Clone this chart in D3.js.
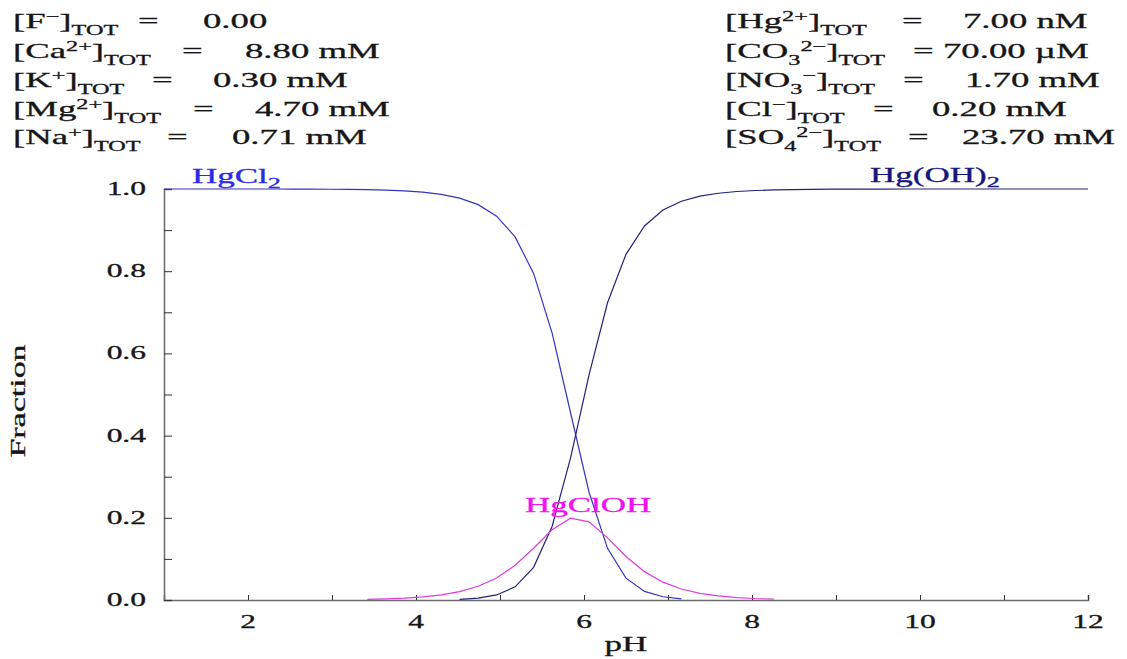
<!DOCTYPE html>
<html>
<head>
<meta charset="utf-8">
<script src="https://cdn.jsdelivr.net/npm/d3@7.9.0/dist/d3.min.js"></script>
<style>
  body { margin: 0; background: #fff; }
  svg { display: block; font-family: "Liberation Serif", "Times New Roman", serif; }
</style>
</head>
<body>
<svg id="chart" width="1127" height="659"></svg>
<script>
// pH grid used by the speciation run
const pH = [1.00, 1.22, 1.44, 1.66, 1.88, 2.10, 2.32, 2.54, 2.76, 2.98, 3.20, 3.42, 3.64, 3.86, 4.08, 4.30,
  4.52, 4.74, 4.96, 5.18, 5.40, 5.62, 5.84, 6.06, 6.28, 6.50, 6.72, 6.94, 7.16, 7.38, 7.60, 7.82, 8.04,
  8.26, 8.48, 8.70, 8.92, 9.14, 9.36, 9.58, 9.80, 10.02, 10.24, 10.46, 10.68, 10.90, 11.12, 11.34, 11.56,
  11.78, 12.00];

// fractions, null = below plotting threshold
const hgcl2 = [1.000, 1.000, 1.000, 1.000, 1.000, 1.000, 1.000, 0.9998, 0.9996, 0.9994, 0.9990, 0.9983,
  0.9972, 0.9954, 0.9922, 0.9870, 0.9779, 0.9620, 0.9340, 0.8835, 0.7946, 0.6500, 0.4556, 0.2622, 0.1257,
  0.0531, 0.0209, 0.0079, 0.0029, null, null, null, null, null, null, null, null, null, null, null, null,
  null, null, null, null, null, null, null, null, null, null];

const hgcloh = [null, null, null, null, null, null, null, null, null, null, null, 0.0017, 0.0027, 0.0045,
  0.0075, 0.0124, 0.0204, 0.0334, 0.0537, 0.0844, 0.1259, 0.1710, 0.1989, 0.1900, 0.1511, 0.1059, 0.0690,
  0.0434, 0.0267, 0.0163, 0.0099, 0.0060, 0.0036, 0.0022, null, null, null, null, null, null, null, null,
  null, null, null, null, null, null, null, null, null];

const hgoh2 = [null, null, null, null, null, null, null, null, null, null, null, null, null, null, null,
  null, 0.0017, 0.0046, 0.0123, 0.0321, 0.0795, 0.1790, 0.3456, 0.5478, 0.7232, 0.8411, 0.9101, 0.9488,
  0.9703, 0.9826, 0.9897, 0.9939, 0.9963, 0.9978, 0.9987, 0.9992, 0.9995, 0.9997, 0.9998, 0.9999, 1.000,
  1.000, 1.000, 1.000, 1.000, 1.000, 1.000, 1.000, 1.000, 1.000, 1.000];

const xTicks = [1, 2, 3, 4, 5, 6, 7, 8, 9, 10, 11, 12];
const xTickLabels = [2, 4, 6, 8, 10, 12];
const yTicks = [0, 0.1, 0.2, 0.3, 0.4, 0.5, 0.6, 0.7, 0.8, 0.9, 1.0];
const yTickLabels = [0, 0.2, 0.4, 0.6, 0.8, 1.0];

// totals shown above the plot: [text, 'n' | 'sup' | 'sub']
const leftIons = [
  [['[F', 'n'], ['−', 'sup'], [']', 'n'], ['TOT', 'sub']],
  [['[Ca', 'n'], ['2+', 'sup'], [']', 'n'], ['TOT', 'sub']],
  [['[K', 'n'], ['+', 'sup'], [']', 'n'], ['TOT', 'sub']],
  [['[Mg', 'n'], ['2+', 'sup'], [']', 'n'], ['TOT', 'sub']],
  [['[Na', 'n'], ['+', 'sup'], [']', 'n'], ['TOT', 'sub']]
];
const leftValues = ['0.00', '8.80 mM', '0.30 mM', '4.70 mM', '0.71 mM'];
const rightIons = [
  [['[Hg', 'n'], ['2+', 'sup'], [']', 'n'], ['TOT', 'sub']],
  [['[CO', 'n'], ['3', 'sub'], ['2−', 'sup'], [']', 'n'], ['TOT', 'sub']],
  [['[NO', 'n'], ['3', 'sub'], ['−', 'sup'], [']', 'n'], ['TOT', 'sub']],
  [['[Cl', 'n'], ['−', 'sup'], [']', 'n'], ['TOT', 'sub']],
  [['[SO', 'n'], ['4', 'sub'], ['2−', 'sup'], [']', 'n'], ['TOT', 'sub']]
];
const rightValues = ['7.00 nM', '70.00 µM', '1.70 mM', '0.20 mM', '23.70 mM'];

const svg = d3.select('#chart');
const SX = 1.75; // the original text is drawn horizontally stretched

const x = d3.scaleLinear().domain([1, 12]).range([164, 1088]);
const y = d3.scaleLinear().domain([0, 1]).range([600, 189]);

function richText(parent, px, py, parts, opt = {}) {
  const size = opt.size || 21;
  const color = opt.color || '#161616';
  const t = parent.append('text')
    .attr('transform', `translate(${px},${py}) scale(${SX},1)`)
    .attr('font-size', size)
    .attr('fill', color)
    .attr('stroke', color)
    .attr('stroke-width', 0.3)
    .attr('text-anchor', opt.anchor || 'start');
  let shift = 0;
  parts.forEach(([s, k]) => {
    const target = k === 'sup' ? -(opt.up || 7) : k === 'sub' ? (opt.down || 7) : 0;
    t.append('tspan')
      .attr('dy', target - shift)
      .attr('font-size', k === 'n' ? size : size * (opt.small || 0.66))
      .text(s);
    shift = target;
  });
  return t;
}

// header block
const rowY = [28, 58, 87, 116, 144];
const leftEqX = [138, 182, 152, 193, 167];
const leftValX = [203, 245, 213, 255, 232];
const rightEqX = [902, 913, 903, 873, 908];
const rightValX = [963, 943, 965, 932, 962];

leftIons.forEach((parts, i) => {
  richText(svg, 13, rowY[i], parts);
  richText(svg, leftEqX[i], rowY[i], [['=', 'n']]);
  richText(svg, leftValX[i], rowY[i], [[leftValues[i], 'n']]);
});
rightIons.forEach((parts, i) => {
  richText(svg, 725, rowY[i], parts);
  richText(svg, rightEqX[i], rowY[i], [['=', 'n']]);
  richText(svg, rightValX[i], rowY[i], [[rightValues[i], 'n']]);
});

// axes
const axisColor = '#6e6e6e';
const xAxis = d3.axisTop(x).tickValues(xTicks).tickSize(5).tickFormat('');
svg.append('g').attr('transform', 'translate(0,600)').call(xAxis)
  .call(g => g.select('.domain').attr('stroke', axisColor).attr('stroke-width', 1.6))
  .call(g => g.selectAll('.tick line').attr('stroke', '#333'));

const yAxis = d3.axisRight(y).tickValues(yTicks).tickSize(8).tickFormat('');
svg.append('g').attr('transform', 'translate(164,0)').call(yAxis)
  .call(g => g.select('.domain').attr('stroke', axisColor).attr('stroke-width', 1.6))
  .call(g => g.selectAll('.tick line').attr('stroke', '#333'));

xTickLabels.forEach(v => richText(svg, x(v), 628, [[String(v), 'n']], { size: 18, anchor: 'middle' }));
yTickLabels.forEach(v => richText(svg, 146, y(v) + 6, [[v.toFixed(1), 'n']], { size: 18, anchor: 'end' }));

richText(svg, 626, 651, [['pH', 'n']], { size: 20, anchor: 'middle' });
svg.append('text')
  .attr('transform', 'translate(25,401) rotate(-90) scale(1.7,1)')
  .attr('text-anchor', 'middle')
  .attr('font-size', 20)
  .attr('fill', '#161616')
  .attr('stroke', '#161616')
  .attr('stroke-width', 0.3)
  .text('Fraction');

// curves
const line = d3.line()
  .defined(d => d[1] !== null)
  .x(d => x(d[0]))
  .y(d => y(d[1]));

const series = [
  { values: hgcl2, stroke: '#3434c4' },
  { values: hgoh2, stroke: '#222276' },
  { values: hgcloh, stroke: '#dc3cdc' }
];
series.forEach(s => {
  svg.append('path')
    .datum(pH.map((p, i) => [p, s.values[i]]))
    .attr('d', line)
    .attr('fill', 'none')
    .attr('stroke', s.stroke)
    .attr('stroke-width', 1.2);
});

// species labels
richText(svg, 192, 183, [['HgCl', 'n'], ['2', 'sub']], { size: 20, color: '#2a2ae6', down: 5, small: 0.75 });
richText(svg, 870, 182, [['Hg(OH)', 'n'], ['2', 'sub']], { size: 20, color: '#15157c', down: 5, small: 0.75 });
richText(svg, 525, 512, [['HgClOH', 'n']], { size: 20, color: '#f010f0' });
</script>
</body>
</html>
